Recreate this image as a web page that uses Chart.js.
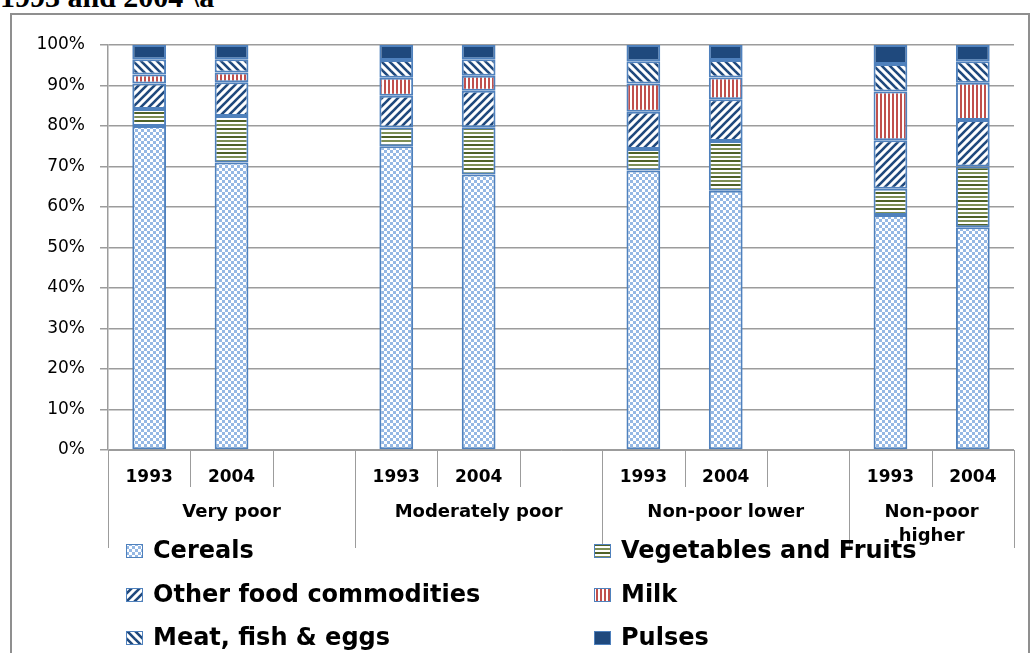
<!DOCTYPE html>
<html>
<head>
<meta charset="utf-8">
<script src="https://cdn.jsdelivr.net/npm/chart.js@4.4.1/dist/chart.umd.min.js"></script>
<style>
  html, body { margin: 0; padding: 0; background: #fff; overflow: hidden; }
  #wrap { position: relative; width: 1032px; height: 653px; overflow: hidden; }
  #title { position: absolute; left: 0px; top: -18px; font: bold 30px "Liberation Serif", "Times New Roman", serif; line-height: 30px; color: #000; white-space: nowrap; }
  #frame { position: absolute; left: 10px; top: 13px; width: 1020px; height: 700px; border: 2px solid #8f8f8f; box-sizing: border-box; }
  #c { position: absolute; left: 0; top: 0; }
</style>
</head>
<body>
<div id="wrap">
  <div id="title">1993 and 2004 \a</div>
  <div id="frame"></div>
  <canvas id="c" width="1032" height="653"></canvas>
</div>
<script>
// ---- data ----
const groups = ['Very poor', 'Moderately poor', 'Non-poor lower', 'Non-poor higher'];
const years = ['1993', '2004'];
const seriesNames = ['Cereals', 'Vegetables and Fruits', 'Other food commodities', 'Milk', 'Meat, fish & eggs', 'Pulses'];
// order of values: VP93, VP04, MP93, MP04, NPL93, NPL04, NPH93, NPH04
const cereals    = [80, 71, 75, 68, 69, 64, 58, 55];
const vegFruits  = [4.2, 11.5, 4.6, 11.7, 5.3, 12.3, 6.5, 15];
const otherFood  = [6.3, 8.3, 7.9, 9, 9.2, 10.3, 12, 11.5];
const milk       = [2.2, 2.4, 4.4, 3.7, 7, 5.4, 12, 9.2];
const meat       = [3.8, 3.3, 4.4, 4.1, 5.5, 4.3, 6.8, 5.3];
const pulses     = [3.5, 3.5, 3.7, 3.5, 4, 3.7, 4.7, 4];

// ---- build category slots (with a blank slot between groups) ----
const labels = [], slotGroup = [], slotIndex = [];
groups.forEach((g, gi) => {
  years.forEach((y, yi) => { labels.push(y); slotGroup.push(gi); slotIndex.push(gi * years.length + yi); });
  if (gi < groups.length - 1) { labels.push(''); slotGroup.push(gi); slotIndex.push(null); }
});
const expand = arr => slotIndex.map(i => i === null ? null : arr[i]);

// ---- patterns ----
function makePattern(w, h, draw) {
  const c = document.createElement('canvas'); c.width = w; c.height = h;
  const g = c.getContext('2d'); draw(g, w, h);
  return g.createPattern(c, 'repeat');
}
const pCereal = makePattern(6, 6, (g) => {
  g.fillStyle = '#ffffff'; g.fillRect(0, 0, 6, 6);
  g.fillStyle = '#95b8e4'; g.fillRect(0, 0, 3, 3); g.fillRect(3, 3, 3, 3);
});
const pVeg = makePattern(4, 8, (g) => {
  g.fillStyle = '#ffffff'; g.fillRect(0, 0, 4, 8);
  g.fillStyle = '#4f6228'; g.fillRect(0, 0, 4, 2);
  g.fillStyle = '#7d8f55'; g.fillRect(0, 4, 4, 2);
});
const pOther = makePattern(8, 8, (g) => {
  g.fillStyle = '#ffffff'; g.fillRect(0, 0, 8, 8);
  g.strokeStyle = '#1f497d'; g.lineWidth = 2.6;
  [[-4, 4, 4, -4], [0, 8, 8, 0], [4, 12, 12, 4]].forEach(([a, b, c, d]) => { g.beginPath(); g.moveTo(a, b); g.lineTo(c, d); g.stroke(); });
});
const pMeat = makePattern(8, 8, (g) => {
  g.fillStyle = '#ffffff'; g.fillRect(0, 0, 8, 8);
  g.strokeStyle = '#1f497d'; g.lineWidth = 2.6;
  [[-4, 4, 4, 12], [0, 0, 8, 8], [4, -4, 12, 4]].forEach(([a, b, c, d]) => { g.beginPath(); g.moveTo(a, b); g.lineTo(c, d); g.stroke(); });
});
const pMilk = makePattern(4, 4, (g) => {
  g.fillStyle = '#ffffff'; g.fillRect(0, 0, 4, 4);
  g.fillStyle = '#c0504d'; g.fillRect(0, 0, 2, 4);
});
const pPulses = '#1f497d';

const fills = [pCereal, pVeg, pOther, pMilk, pMeat, pPulses];
const values = [cereals, vegFruits, otherFood, milk, meat, pulses];

const datasets = seriesNames.map((name, i) => ({
  label: name,
  data: expand(values[i]),
  backgroundColor: fills[i],
  borderColor: '#4f81bd',
  borderWidth: 2,
  borderSkipped: false,
  barPercentage: 0.41,
  categoryPercentage: 1.0
}));

const GRID = '#9c9c9c';

const multiLevel = {
  id: 'multiLevel',
  afterDraw(chart) {
    const ctx = chart.ctx, xs = chart.scales.x, bottom = chart.chartArea.bottom;
    const n = labels.length;
    const edges = [];
    for (let i = 0; i <= n; i++) {
      if (i === 0) edges.push(xs.left);
      else if (i === n) edges.push(xs.right);
      else edges.push((xs.getPixelForValue(i - 1) + xs.getPixelForValue(i)) / 2);
    }
    ctx.save();
    ctx.strokeStyle = GRID; ctx.lineWidth = 1;
    for (let i = 0; i <= n; i++) {
      const long = (i === 0 || i === n || slotGroup[i - 1] !== slotGroup[i]);
      const x = Math.round(edges[i]) + 0.5;
      ctx.beginPath(); ctx.moveTo(x, bottom); ctx.lineTo(x, bottom + (long ? 98 : 37)); ctx.stroke();
    }
    // group labels
    ctx.fillStyle = '#000';
    ctx.font = 'bold 18px "DejaVu Sans"';
    ctx.textAlign = 'center'; ctx.textBaseline = 'middle';
    groups.forEach((g, gi) => {
      const idx = slotGroup.map((s, k) => s === gi ? k : -1).filter(k => k >= 0);
      const l = edges[idx[0]], r = edges[idx[idx.length - 1] + 1];
      const cx = (l + r) / 2, maxW = r - l - 8;
      const words = g.split(' '); const lines = []; let cur = '';
      words.forEach(w => {
        const t = cur ? cur + ' ' + w : w;
        if (ctx.measureText(t).width > maxW && cur) { lines.push(cur); cur = w; } else cur = t;
      });
      lines.push(cur);
      lines.forEach((ln, li) => ctx.fillText(ln, cx, bottom + 62 + li * 24));
    });
    // legend
    const colX = [126, 594], rowY = [551, 595, 638];
    ctx.font = 'bold 24px "DejaVu Sans"';
    ctx.textAlign = 'left';
    seriesNames.forEach((name, i) => {
      const x = colX[i % 2], y = rowY[Math.floor(i / 2)];
      ctx.fillStyle = fills[i];
      ctx.fillRect(x, y - 7, 17, 14);
      ctx.strokeStyle = '#4f81bd'; ctx.lineWidth = 1;
      ctx.strokeRect(x + 0.5, y - 6.5, 16, 13);
      ctx.fillStyle = '#000';
      ctx.fillText(name, x + 27, y + 1);
    });
    ctx.restore();
  }
};

new Chart(document.getElementById('c'), {
  type: 'bar',
  data: { labels, datasets },
  options: {
    responsive: false,
    animation: false,
    layout: { padding: { left: 0, right: 18, top: 45, bottom: 0 } },
    plugins: { legend: { display: false }, tooltip: { enabled: false }, title: { display: false } },
    scales: {
      x: {
        stacked: true,
        grid: { display: false, drawTicks: false },
        border: { display: true, color: GRID, width: 1 },
        ticks: { color: '#000', font: { family: 'DejaVu Sans', size: 17, weight: 'bold' }, padding: 17, autoSkip: false, maxRotation: 0, minRotation: 0 },
        afterFit(s) { s.height = 203; }
      },
      y: {
        stacked: true,
        min: 0, max: 100,
        grid: { color: GRID, lineWidth: 1.5, tickLength: 8, drawTicks: true },
        border: { display: true, color: GRID, width: 1.5 },
        ticks: { stepSize: 10, color: '#000', font: { family: 'DejaVu Sans', size: 17 }, padding: 15, callback: v => v + '%' },
        afterFit(s) { s.width = 108; }
      }
    }
  },
  plugins: [multiLevel]
});
</script>
</body>
</html>
